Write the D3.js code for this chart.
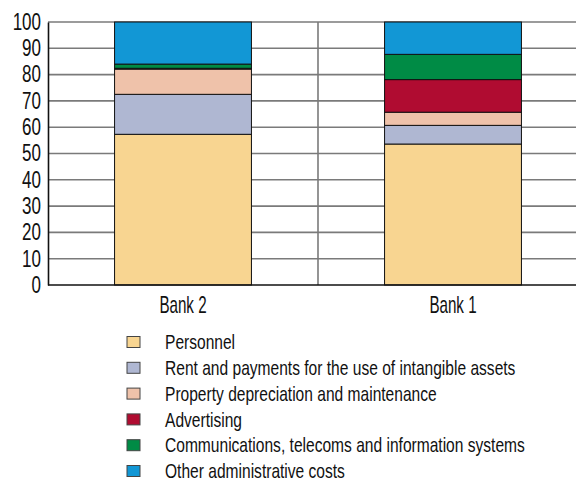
<!DOCTYPE html>
<html>
<head>
<meta charset="utf-8">
<script src="https://cdn.jsdelivr.net/npm/d3@7"></script>
<style>
  body { margin: 0; background: #fff; }
  text { font-family: "Liberation Sans", Arial, sans-serif; fill: #111; }
</style>
</head>
<body>
<div id="container"></div>
<script>
/* DATA */
const banks = ["Bank 2", "Bank 1"]
const categories = [
  "Personnel",
  "Rent and payments for the use of intangible assets",
  "Property depreciation and maintenance",
  "Advertising",
  "Communications, telecoms and information systems",
  "Other administrative costs"
]
const colors = ["#f8d591", "#afb7d2", "#efc2aa", "#b00c31", "#008b45", "#1297d5"]
const bank2 = [57.3, 15.2, 9.6, 0.3, 1.6, 16.0]
const bank1 = [53.6, 7.1, 5.0, 12.4, 9.6, 12.3]
const yTicks = [0, 10, 20, 30, 40, 50, 60, 70, 80, 90, 100]

/* SIZES */
const W = 576, H = 482
const plot = {left: 48, right: 588, top: 22, bottom: 285}
// the original font is a narrow one, squeeze the text horizontally
const squeezeTick = 0.74, squeezeBank = 0.66, squeezeLegend = 0.76

const svg = d3.select("#container")
  .append("svg")
    .attr("width", W)
    .attr("height", H)

// scales
const xScale = d3.scaleBand()
  .domain(banks)
  .range([plot.left, plot.right])
  .paddingInner(0.493)
  .paddingOuter(0.2465)

const yScale = d3.scaleLinear()
  .domain([0, 100])
  .range([plot.bottom, plot.top])

// gridlines
svg.append("g")
  .selectAll("line")
  .data(yTicks.filter(d => d > 0))
  .join("line")
    .attr("x1", plot.left)
    .attr("x2", W)
    .attr("y1", d => yScale(d))
    .attr("y2", d => yScale(d))
    .attr("stroke", "#7a7a7a")
    .attr("stroke-width", 1.6)

// category separator
svg.append("line")
  .attr("x1", plot.left + xScale.step())
  .attr("x2", plot.left + xScale.step())
  .attr("y1", plot.top)
  .attr("y2", plot.bottom)
  .attr("stroke", "#7a7a7a")
  .attr("stroke-width", 1.6)

// stack
const rows = banks.map((b, i) => {
  const vals = i === 0 ? bank2 : bank1
  const row = {bank: b}
  categories.forEach((c, j) => row[c] = vals[j])
  return row
})
const series = d3.stack().keys(categories)(rows)

svg.append("g")
  .selectAll("g")
  .data(series)
  .join("g")
    .attr("fill", (d, i) => colors[i])
  .selectAll("rect")
  .data(d => d)
  .join("rect")
    .attr("x", d => xScale(d.data.bank))
    .attr("width", xScale.bandwidth())
    .attr("y", d => yScale(d[1]))
    .attr("height", d => yScale(d[0]) - yScale(d[1]))
    .attr("stroke", "#111")
    .attr("stroke-width", 1)

// y axis
const yAxis = svg.append("g")
  .attr("transform", "translate(" + plot.left + ",0)")
  .call(d3.axisLeft(yScale).tickValues(yTicks).tickSize(0))
yAxis.select(".domain").attr("stroke", "#111").attr("stroke-width", 1.6)
yAxis.selectAll("text")
  .attr("x", -7 / squeezeTick)
  .attr("transform", "scale(" + squeezeTick + ",1)")
  .style("font-size", "23px")
  .style("font-family", "'Liberation Sans', Arial, sans-serif")
  .attr("fill", "#111")

// x axis
const xAxis = svg.append("g")
  .attr("transform", "translate(0," + plot.bottom + ")")
  .call(d3.axisBottom(xScale).tickSize(0).tickPadding(12))
xAxis.select(".domain").remove()
svg.append("line")
  .attr("x1", plot.left)
  .attr("x2", W)
  .attr("y1", plot.bottom)
  .attr("y2", plot.bottom)
  .attr("stroke", "#111")
  .attr("stroke-width", 1.6)
xAxis.selectAll("text")
  .attr("transform", "scale(" + squeezeBank + ",1)")
  .style("font-size", "23px")
  .style("font-family", "'Liberation Sans', Arial, sans-serif")
  .attr("fill", "#111")

// legend
const legend = svg.append("g")
  .attr("transform", "translate(127,342)")

const item = legend.selectAll("g")
  .data(categories)
  .join("g")
    .attr("transform", (d, i) => "translate(0," + (i * 25.8) + ")")

item.append("rect")
  .attr("x", 0)
  .attr("y", -5.5)
  .attr("width", 13)
  .attr("height", 11)
  .attr("fill", (d, i) => colors[i])
  .attr("stroke", "#444")
  .attr("stroke-width", 1)

item.append("text")
  .attr("transform", "translate(38,0) scale(" + squeezeLegend + ",1)")
  .attr("dy", "0.35em")
  .style("font-size", "20.5px")
  .text(d => d)
</script>
</body>
</html>
